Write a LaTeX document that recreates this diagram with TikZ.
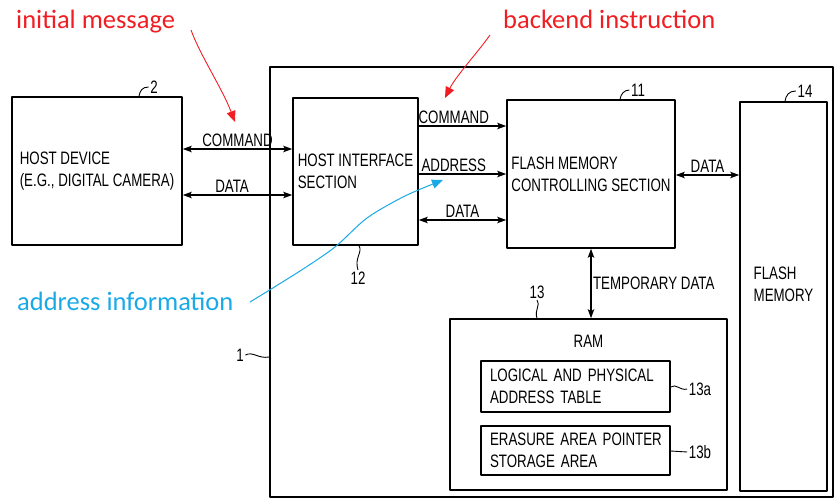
\documentclass[tikz,border=0pt]{standalone}
\usepackage{fontspec}
\setmainfont{Liberation Sans}
\newfontfamily\patfont[FakeStretch=0.74]{Liberation Sans}
\newfontfamily\notefont{Carlito}
\usetikzlibrary{arrows.meta}
\definecolor{notered}{RGB}{240,30,35}
\definecolor{noteblue}{RGB}{25,170,230}
\newcommand\pf{\patfont\fontsize{18}{22}\selectfont}
\newcommand\nf{\notefont\fontsize{26.5}{30}\selectfont}
\begin{document}
\begin{tikzpicture}[x=1pt, y=-1pt, line join=round, >={Stealth[length=9pt,width=6.5pt,inset=2pt]},
	blk/.style={draw, line width=1.6pt, inner sep=0pt, align=left, font=\pf},
	lk/.style={line width=1.2pt},
	lbl/.style={font=\pf, inner sep=1.5pt},
	hook/.style={line width=0.9pt},
	note/.style={font=\nf, inner sep=0pt, anchor=base west},
	tip/.style={-{Triangle[length=11pt,width=9pt]}}]
	\useasboundingbox (0,0) rectangle (835,501);
	% blocks
	\node[blk, minimum width=170, minimum height=148] (host) at (97,171) {HOST DEVICE\\(E.G., DIGITAL CAMERA)};
	\node[blk, minimum width=563, minimum height=430] (sys) at (551.5,282) {};
	\node[blk, minimum width=125, minimum height=147] (hif) at (355.5,171.5) {HOST INTERFACE\\SECTION};
	\node[blk, minimum width=168, minimum height=148] (fmc) at (591,174) {FLASH MEMORY\\CONTROLLING SECTION};
	\node[blk, minimum width=87, minimum height=389] (fm) at (783.5,296.5) {};
	\node[lbl, align=left] (fmtxt) at (fm.center |- 0,284) {FLASH\\MEMORY};
	\node[blk, minimum width=277, minimum height=171] (ram) at (588.5,404.5) {};
	\node[lbl] (ramtxt) at (ram.center |- 0,341) {RAM};
	\node[blk, minimum width=189, minimum height=51, text width=171] (tbl) at (575.5,386.5) {\mbox{LOGICAL AND PHYSICAL}\\ADDRESS TABLE};
	\node[blk, minimum width=189, minimum height=49, text width=171] (ptr) at (575.5,450.5) {\mbox{ERASURE AREA POINTER}\\STORAGE AREA};
	% links
	\draw[lk,<->] (host.east |- 0,149) -- node[lbl,above]{COMMAND} (hif.west |- 0,149);
	\draw[lk,<->] (host.east |- 0,195) -- node[lbl,above,pos=.45]{DATA} (hif.west |- 0,195);
	\draw[lk,->] (hif.east |- 0,126) -- node[lbl,above,pos=.4]{COMMAND} (fmc.west |- 0,126);
	\draw[lk,->] (hif.east |- 0,174) -- node[lbl,above,pos=.4]{ADDRESS} (fmc.west |- 0,174);
	\draw[lk,<->] (hif.east |- 0,220) -- node[lbl,above]{DATA} (fmc.west |- 0,220);
	\draw[lk,<->] (fmc.east |- 0,175) -- node[lbl,above]{DATA} (fm.west |- 0,175);
	\draw[lk,<->] (fmc.south) -- node[lbl,right]{TEMPORARY DATA} (ram.north -| fmc.south);
	% reference numerals
	\node[lbl] (n2) at (154,87) {2};
	\node[lbl] (n11) at (638,90) {11};
	\node[lbl] (n14) at (805,91) {14};
	\node[lbl] (n12) at (358,278) {12};
	\node[lbl] (n13) at (537,292) {13};
	\node[lbl] (n1) at (240,355) {1};
	\node[lbl] (n13a) at (700,389) {13a};
	\node[lbl] (n13b) at (700,452) {13b};
	\draw[hook] (host.north -| 139,0) .. controls (140,91) and (142,87) .. (n2.west);
	\draw[hook] (fmc.north -| 620,0) .. controls (621,94) and (624,90) .. (n11.west);
	\draw[hook] (fm.north -| 785,0) .. controls (786,95) and (789,91) .. (n14.west);
	\draw[hook] (hif.south -| 359,0) .. controls (363,252) and (354,258) .. (n12.north);
	\draw[hook] (n13.south) .. controls (541,305) and (534,310) .. (ram.north -| 537,0);
	\draw[hook] (n1.east) .. controls (253,351) and (258,359) .. (sys.west |- 0,357);
	\draw[hook] (tbl.east |- 0,387) .. controls (676,383) and (680,391) .. (n13a.west);
	\draw[hook] (ptr.east |- 0,451) -- (n13b.west);
	% notes
	\node[note, text=notered] (imsg) at (16,28) {initial message};
	\node[note, text=notered] (bend) at (503,28) {backend instruction};
	\node[note, text=noteblue] (addr) at (17,310) {address information};
	\coordinate (imsgend) at (191,30);
	\coordinate (imsgtip) at (235,122);
	\coordinate (bendend) at (490,35);
	\coordinate (bendtip) at (445,98);
	\coordinate (addrend) at (250,302);
	\coordinate (addrtip) at (443,180);
	\draw[notered, line width=0.9pt, tip] (imsgend) .. controls (200,55) and (222,88) .. (imsgtip);
	\draw[notered, line width=0.9pt, tip] (bendend) .. controls (478,52) and (456,76) .. (bendtip);
	\draw[noteblue, line width=1pt, tip] plot[smooth] coordinates {(addrend) (300,271) (335,247) (367,218) (405,196) (addrtip)};
\end{tikzpicture}
\end{document}
